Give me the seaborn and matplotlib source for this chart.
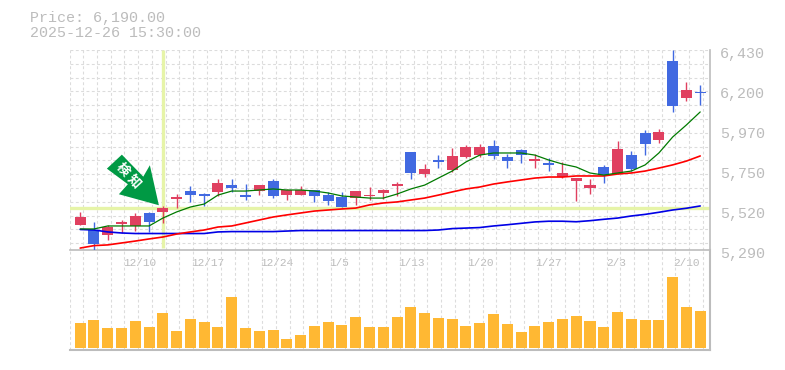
import numpy as np
import pandas as pd
import matplotlib
matplotlib.use("Agg")
import matplotlib.pyplot as plt
import seaborn as sns
from matplotlib.patches import Polygon
from matplotlib.transforms import ScaledTranslation, IdentityTransform

sns.set_style("white")
plt.rcParams['font.family'] = ['Liberation Mono', 'Noto Sans CJK JP', 'DejaVu Sans']

# Data
opens = [5478, 5324, 5421, 5450, 5484, 5450, 5529, 5592, 5603, 5598, 5672, 5643, 5592, 5660, 5598, 5632,
         5632, 5598, 5569, 5535, 5626, 5603, 5632, 5666, 5729, 5752, 5792, 5826, 5877, 5877, 5826, 5797,
         5831, 5809, 5775, 5729, 5700, 5660, 5717, 5866, 5752, 5894, 5963, 6111, 6202, 6185]
closes = [5432, 5404, 5375, 5438, 5427, 5501, 5507, 5581, 5626, 5609, 5621, 5660, 5603, 5626, 5683, 5603,
          5603, 5632, 5603, 5592, 5586, 5598, 5615, 5655, 5849, 5723, 5803, 5746, 5820, 5831, 5883, 5820,
          5860, 5797, 5786, 5706, 5683, 5643, 5763, 5723, 5831, 5957, 5917, 6367, 6156, 6190]
highs = [5506, 5449, 5432, 5461, 5501, 5507, 5541, 5609, 5655, 5615, 5695, 5695, 5666, 5660, 5695, 5638,
         5655, 5632, 5621, 5621, 5626, 5649, 5638, 5678, 5849, 5780, 5831, 5871, 5889, 5894, 5917, 5837,
         5866, 5837, 5814, 5792, 5700, 5695, 5775, 5911, 5854, 5974, 5980, 6430, 6248, 6230]
lows = [5432, 5290, 5347, 5387, 5398, 5393, 5444, 5529, 5564, 5541, 5598, 5621, 5575, 5603, 5586, 5575,
        5603, 5564, 5546, 5535, 5546, 5575, 5581, 5598, 5695, 5706, 5757, 5735, 5814, 5820, 5809, 5757,
        5786, 5757, 5740, 5700, 5569, 5609, 5672, 5723, 5740, 5831, 5900, 6077, 6139, 6116]
ma_short = [5410, 5410, 5427, 5427, 5427, 5427, 5472, 5507, 5535, 5552, 5603, 5626, 5626, 5632, 5638, 5632,
            5632, 5626, 5615, 5598, 5592, 5586, 5586, 5609, 5638, 5660, 5700, 5740, 5792, 5831, 5843, 5843,
            5843, 5831, 5803, 5780, 5763, 5729, 5717, 5729, 5740, 5775, 5843, 5934, 6003, 6077]
ma_mid = [5301, 5315, 5319, 5330, 5341, 5353, 5364, 5381, 5393, 5404, 5421, 5427, 5444, 5461, 5478, 5490,
          5501, 5512, 5518, 5524, 5529, 5547, 5558, 5564, 5575, 5586, 5603, 5621, 5638, 5649, 5666, 5678,
          5689, 5700, 5706, 5706, 5712, 5712, 5712, 5723, 5729, 5740, 5757, 5775, 5797, 5826]
ma_long = [5407, 5404, 5393, 5387, 5384, 5384, 5384, 5384, 5384, 5384, 5393, 5395, 5395, 5395, 5395, 5398,
           5401, 5401, 5401, 5401, 5401, 5401, 5401, 5401, 5401, 5401, 5404, 5412, 5415, 5418, 5427, 5434,
           5442, 5450, 5454, 5454, 5451, 5457, 5465, 5472, 5484, 5493, 5505, 5518, 5528, 5541]
volumes = [25, 28, 20, 20, 27, 21, 35, 17, 29, 26, 21, 51, 20, 17, 18, 9, 13, 22, 26, 23, 31, 21, 21,
           31, 41, 35, 30, 29, 22, 25, 34, 24, 16, 22, 26, 29, 32, 27, 21, 36, 29, 28, 28, 71, 41, 37]

price_ticks = [6430, 6202, 5974, 5746, 5518, 5290]
price_labels = ['6,430', '6,200', '5,970', '5,750', '5,520', '5,290']
date_ticks = [4.33, 9.27, 14.27, 18.8, 24.07, 29.07, 34.0, 38.9, 44.0]
date_labels = ['12/10', '12/17', '12/24', '1/5', '1/13', '1/20', '1/27', '2/3', '2/10']
signal_idx = 6
signal_price = 5528

UP = '#4169e1'
DOWN = '#e04060'
HILITE = '#e6f4a8'
GREY = '#bcbcbc'
GRID = '#dcdcdc'
DASH = (0, (2.6, 2.2))

W, H = 785, 370
days = np.arange(len(opens))
df = pd.DataFrame({'day': days, 'open': opens, 'close': closes, 'high': highs, 'low': lows,
                   'ma_short': ma_short, 'ma_mid': ma_mid, 'ma_long': ma_long, 'volume': volumes})

fig = plt.figure(figsize=(W / 100, H / 100), dpi=100)
ax = fig.add_axes([70 / W, 1 - 250 / H, 640 / W, 200 / H])
ax_vol = fig.add_axes([70 / W, 1 - 350 / H, 640 / W, 100 / H], facecolor='none')

xlim = (-0.74, 45.71)
grid_x = np.append(xlim[0], days + 0.2)

# price panel
ax.set_xlim(xlim)
ax.set_ylim(5290, 6430)
grid_y = np.arange(6430, 5290, -13.8 * 5.7)
ax.vlines(grid_x, 5290, 6430, color=GRID, lw=0.8, ls=DASH, zorder=1)
ax.hlines(grid_y, xlim[0], xlim[1], color=GRID, lw=0.8, ls=DASH, zorder=1)

ax.axhline(signal_price, color=HILITE, lw=2.4, zorder=2)
ax.vlines(signal_idx, 5302, 6430, color=HILITE, lw=2.4, zorder=2)

colors = [UP if c >= o else DOWN for o, c in zip(opens, closes)]
ax.vlines(df['day'], df['low'], df['high'], colors=colors, lw=1.0, zorder=3)
ax.bar(df['day'], np.abs(df['close'] - df['open']), bottom=df[['open', 'close']].min(axis=1),
       width=0.8, color=colors, linewidth=0, zorder=4)

sns.lineplot(data=df, x='day', y='ma_long', color='#0000e6', lw=1.2, ax=ax, zorder=5)
sns.lineplot(data=df, x='day', y='ma_mid', color='#ff0000', lw=1.2, ax=ax, zorder=5)
sns.lineplot(data=df, x='day', y='ma_short', color='#007a00', lw=0.9, ax=ax, zorder=5)

ax.set_xlabel('')
ax.set_ylabel('')
ax.set_xticks(date_ticks)
ax.set_xticklabels(date_labels, fontsize=8, color=GREY)
ax.yaxis.tick_right()
ax.set_yticks(price_ticks)
ax.set_yticklabels(price_labels, fontsize=10.8, color=GREY)
ax.tick_params(axis='x', length=0, pad=5.5)
ax.tick_params(axis='y', length=0, pad=7)
down_2px = ScaledTranslation(0, -2 / 100, fig.dpi_scale_trans)
for lab in ax.get_yticklabels():
    lab.set_transform(lab.get_transform() + down_2px)

for name in ['top', 'left']:
    ax.spines[name].set_visible(False)
for name in ['right', 'bottom']:
    ax.spines[name].set_color(GREY)
    ax.spines[name].set_linewidth(1.2)

# volume panel
sns.barplot(data=df, x='day', y='volume', native_scale=True, width=0.8, color='#ffb833',
            saturation=1, linewidth=0, ax=ax_vol, zorder=3)
ax_vol.set_xlim(xlim)
ax_vol.set_ylim(-2, 98)
ax_vol.vlines(grid_x, -2, 98, color=GRID, lw=0.8, ls=DASH, zorder=1)
ax_vol.set_xlabel('')
ax_vol.set_ylabel('')
ax_vol.set_xticks([])
ax_vol.set_yticks([])
for name in ['top', 'left']:
    ax_vol.spines[name].set_visible(False)
for name in ['right', 'bottom']:
    ax_vol.spines[name].set_color(GREY)
    ax_vol.spines[name].set_linewidth(1.5)

# signal arrow, offsets in pixels from the signal point
fig.canvas.draw()
tip_x, tip_y = ax.transData.transform((signal_idx, signal_price))
arrow = [(-4, 3), (-13, 43), (-19.6, 31.6), (-41, 53.6), (-56, 39.6), (-35, 24), (-44, 14)]
poly = [(tip_x + dx, tip_y + dy) for dx, dy in arrow]
ax.add_patch(Polygon(poly, closed=True, transform=IdentityTransform(), facecolor='#009944',
                     edgecolor='none', zorder=6, clip_on=False))
for ch, cx, cy in [('検', 123, 169), ('知', 134, 181)]:
    fig.text(cx / W, 1 - cy / H, ch, color='white', fontsize=9.5, fontweight='bold', rotation=-47,
             ha='center', va='center', family=['Noto Sans CJK JP', 'DejaVu Sans'], zorder=10)

fig.text(30 / W, 1 - 18 / H, 'Price: 6,190.00', color=GREY, fontsize=10.8, va='center')
fig.text(30 / W, 1 - 33 / H, '2025-12-26 15:30:00', color=GREY, fontsize=10.8, va='center')

fig.savefig('out.png', dpi=100)
plt.close(fig)
